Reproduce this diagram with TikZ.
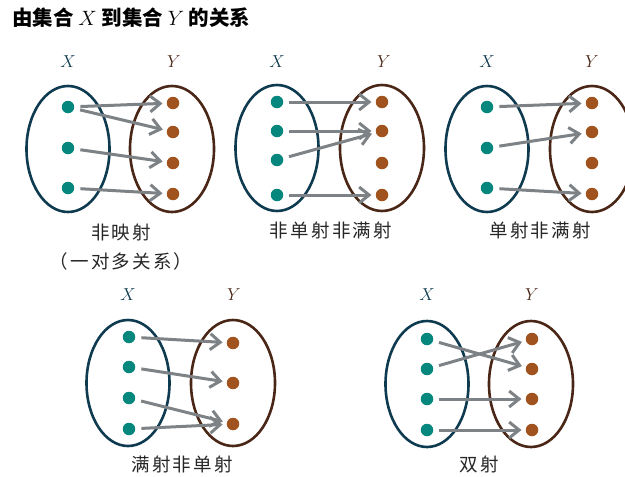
\documentclass[tikz,border=0pt]{standalone}
\usepackage{fontspec}
\usetikzlibrary{arrows.meta,shapes.geometric}
\newfontfamily\cjktitle{Noto Sans CJK SC}
\newfontfamily\cjklab[LetterSpace=12]{Noto Sans CJK SC}
\definecolor{xring}{HTML}{0F3B50}
\definecolor{yring}{HTML}{4A2616}
\definecolor{xdot}{HTML}{06877E}
\definecolor{ydot}{HTML}{A0531E}
\definecolor{arr}{HTML}{7D8286}
\tikzset{
  xset/.style={draw=xring,line width=2.6pt,ellipse,minimum width=83pt,minimum height=126pt,inner sep=0pt},
  yset/.style={draw=yring,line width=2.6pt,ellipse,minimum width=84pt,minimum height=126pt,inner sep=0pt},
  xpt/.style={circle,fill=xdot,minimum size=12.5pt,inner sep=0pt},
  ypt/.style={circle,fill=ydot,minimum size=12.5pt,inner sep=0pt},
  mapto/.style={draw=arr,line width=3pt,-{Straight Barb[length=10pt,width=16pt,line width=3pt]},shorten <=6pt,shorten >=4pt},
  xlab/.style={text=xring,font=\fontsize{18}{18}\selectfont},
  ylab/.style={text=yring,font=\fontsize{18}{18}\selectfont},
  caplabel/.style={text=black!85,font=\fontsize{18.5}{18.5}\cjklab}
}
\begin{document}
\begin{tikzpicture}[x=1pt,y=-1pt]
\useasboundingbox (0,0) rectangle (625,477);
\node[anchor=west,font=\fontsize{20.5}{20.5}\cjktitle\bfseries,inner sep=0pt] (title) at (12,18) {由集合 $X$ 到集合 $Y$ 的关系};

% ---------- Diagram 1: non-mapping
\node[xset] (e1x) at (68,149) {};
\node[yset] (e1y) at (172,149) {};
\node[xlab] (l1x) at (68,62) {$X$};
\node[ylab] (l1y) at (174,62) {$Y$};
\node[xpt] (a1) at (68,107) {};
\node[xpt] (a2) at (68,148) {};
\node[xpt] (a3) at (68,188) {};
\node[ypt] (b1) at (173,103) {};
\node[ypt] (b2) at (173,132) {};
\node[ypt] (b3) at (173,163) {};
\node[ypt] (b4) at (173,194) {};
\draw[mapto] (a1) -- (b1);
\draw[mapto] (a1) -- (b2);
\draw[mapto] (a2) -- (b3);
\draw[mapto] (a3) -- (b4);
\node[caplabel] (c1) at (121,232) {非映射};
\node[caplabel] (c1b) at (121,261) {（一对多关系）};

% ---------- Diagram 2
\node[xset] (e2x) at (277,148) {};
\node[yset] (e2y) at (382,148) {};
\node[xlab] (l2x) at (277,62) {$X$};
\node[ylab] (l2y) at (384,62) {$Y$};
\node[xpt] (p1) at (277,102) {};
\node[xpt] (p2) at (277,131) {};
\node[xpt] (p3) at (277,160) {};
\node[xpt] (p4) at (277,195) {};
\node[ypt] (q1) at (382,102) {};
\node[ypt] (q2) at (382,131) {};
\node[ypt] (q3) at (382,163) {};
\node[ypt] (q4) at (382,195) {};
\draw[mapto] (p1) -- (q1);
\draw[mapto] (p2) -- (q2);
\draw[mapto] (p3) -- (q2);
\draw[mapto] (p4) -- (q4);
\node[caplabel] (c2) at (331,230) {非单射非满射};

% ---------- Diagram 3
\node[xset] (e3x) at (487,149) {};
\node[yset] (e3y) at (592,149) {};
\node[xlab] (l3x) at (487,62) {$X$};
\node[ylab] (l3y) at (592,62) {$Y$};
\node[xpt] (r1) at (487,107) {};
\node[xpt] (r2) at (487,148) {};
\node[xpt] (r3) at (487,188) {};
\node[ypt] (s1) at (592,103) {};
\node[ypt] (s2) at (592,132) {};
\node[ypt] (s3) at (592,163) {};
\node[ypt] (s4) at (592,194) {};
\draw[mapto] (r1) -- (s1);
\draw[mapto] (r2) -- (s2);
\draw[mapto] (r3) -- (s4);
\node[caplabel] (c3) at (540,230) {单射非满射};

% ---------- Diagram 4
\node[xset] (e4x) at (128,383) {};
\node[yset] (e4y) at (233,383) {};
\node[xlab] (l4x) at (128,295) {$X$};
\node[ylab] (l4y) at (234,295) {$Y$};
\node[xpt] (u1) at (129,337) {};
\node[xpt] (u2) at (129,367) {};
\node[xpt] (u3) at (129,398) {};
\node[xpt] (u4) at (129,429) {};
\node[ypt] (v1) at (233,343) {};
\node[ypt] (v2) at (233,383) {};
\node[ypt] (v3) at (233,424) {};
\draw[mapto] (u1) -- (v1);
\draw[mapto] (u2) -- (v2);
\draw[mapto] (u3) -- (v3);
\draw[mapto] (u4) -- (v3);
\node[caplabel] (c4) at (182,464) {满射非单射};

% ---------- Diagram 5: bijection
\node[xset] (e5x) at (427,384) {};
\node[yset] (e5y) at (531,384) {};
\node[xlab] (l5x) at (427,295) {$X$};
\node[ylab] (l5y) at (532,295) {$Y$};
\node[xpt] (w1) at (427,339) {};
\node[xpt] (w2) at (427,369) {};
\node[xpt] (w3) at (427,399) {};
\node[xpt] (w4) at (427,430) {};
\node[ypt] (z1) at (532,339) {};
\node[ypt] (z2) at (532,369) {};
\node[ypt] (z3) at (532,399) {};
\node[ypt] (z4) at (532,430) {};
\draw[mapto] (w1) -- (z2);
\draw[mapto] (w2) -- (z1);
\draw[mapto] (w3) -- (z3);
\draw[mapto] (w4) -- (z4);
\node[caplabel] (c5) at (479,464) {双射};
\end{tikzpicture}
\end{document}
